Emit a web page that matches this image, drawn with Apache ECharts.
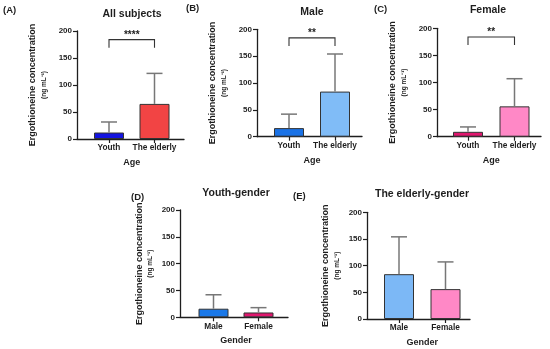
<!DOCTYPE html>
<html>
<head>
<meta charset="utf-8">
<script src="https://cdn.jsdelivr.net/npm/echarts@6/dist/echarts.min.js"></script>
<style>
html,body{margin:0;padding:0;background:#fff;}
#chart{width:550px;height:349px;}
</style>
</head>
<body>
<div id="chart"></div>
<script>
// ---------- data ----------
const panelLetters = ['(A)', '(B)', '(C)', '(D)', '(E)'];
const panelTitles = ['All subjects', 'Male', 'Female', 'Youth-gender', 'The elderly-gender'];
const ageCategories = ['Youth', 'The elderly'];
const genderCategories = ['Male', 'Female'];
const xAxisNames = ['Age', 'Age', 'Age', 'Gender', 'Gender'];
const yAxisTitle = 'Ergothioneine concentration';
const yAxisUnit = '(ng mL⁻¹)';
const yMin = 0, yMax = 200, yInterval = 50;

const meansAll = [12, 65];
const sdAll = [19.5, 56.5];
const meansMale = [16, 84];
const sdMale = [26, 70];
const meansFemale = [9, 56];
const sdFemale = [9, 51];
const meansYouthGender = [16, 9];
const sdYouthGender = [26, 9];
const meansElderlyGender = [84, 56];
const sdElderlyGender = [70, 51];

const significance = ['****', '**', '**', '', ''];

// ---------- styling / layout ----------
const FONT = "'Liberation Sans', Arial, sans-serif";
const INK = '#1e1e1e';
const panelColors = [
  ['#1414e0', '#f24444'],
  ['#1a72e6', '#80bcf7'],
  ['#e0166e', '#ff88c6'],
  ['#1a78e8', '#e0166e'],
  ['#7cb8f6', '#ff88c6']
];
const layout = [
  {axisX: 77, axisEnd: 184, top: 31, zero: 139, c1: 109, c2: 154.5, title: [132, 14], letter: [3, 10], nameGap: 27.5},
  {axisX: 257, axisEnd: 362, top: 29.3, zero: 136.7, c1: 289, c2: 335, title: [312, 12], letter: [186, 8], nameGap: 27.5},
  {axisX: 437, axisEnd: 541, top: 28.3, zero: 136.7, c1: 468, c2: 514.5, title: [488, 10], letter: [374, 9], nameGap: 27.5},
  {axisX: 180, axisEnd: 288, top: 210, zero: 317.3, c1: 213.5, c2: 258.5, title: [236, 193], letter: [131, 197], nameGap: 24},
  {axisX: 367, axisEnd: 470, top: 212.3, zero: 319, c1: 399, c2: 445.5, title: [422, 194], letter: [293, 196], nameGap: 24.5}
];
const bracketLevels = [184, 169, 193]; // top, foot, star text (data units)

const panels = [
  {cats: ageCategories, means: meansAll, sds: sdAll},
  {cats: ageCategories, means: meansMale, sds: sdMale},
  {cats: ageCategories, means: meansFemale, sds: sdFemale},
  {cats: genderCategories, means: meansYouthGender, sds: sdYouthGender},
  {cats: genderCategories, means: meansElderlyGender, sds: sdElderlyGender}
];

const grid = [], xAxis = [], yAxis = [], series = [], title = [];

panels.forEach((p, k) => {
  const L = layout[k];
  const frameIdx = grid.length;
  // frame grid: y-axis ticks & x-axis line
  grid.push({left: L.axisX, top: L.top, width: L.axisEnd - L.axisX, height: L.zero - L.top, containLabel: false});
  xAxis.push({gridIndex: frameIdx, type: 'value', min: 0, max: 1, axisLine: {show: true, lineStyle: {color: INK, width: 1.3}},
    axisTick: {show: false}, axisLabel: {show: false}, splitLine: {show: false}});
  yAxis.push({gridIndex: frameIdx, type: 'value', min: yMin, max: yMax, interval: yInterval,
    axisLine: {show: true, lineStyle: {color: INK, width: 1.3}},
    axisTick: {show: true, length: 4, lineStyle: {color: INK, width: 1.2}},
    axisLabel: {margin: 5, fontFamily: FONT, fontWeight: 'bold', fontSize: 8, color: INK},
    splitLine: {show: false},
    name: '{a|' + yAxisTitle + '}\n{b|' + yAxisUnit + '}',
    nameLocation: 'middle', nameRotate: 90, nameGap: L.nameGap,
    nameTextStyle: {rich: {
      a: {fontFamily: FONT, fontWeight: 'bold', fontSize: 9, lineHeight: 11, color: INK},
      b: {fontFamily: FONT, fontWeight: 'bold', fontSize: 6.5, lineHeight: 11, color: INK}
    }}
  });
  // data grid
  const dataIdx = grid.length;
  const sp = L.c2 - L.c1;
  grid.push({left: L.c1 - sp / 2, top: L.top, width: 2 * sp, height: L.zero - L.top, containLabel: false});
  xAxis.push({gridIndex: dataIdx, type: 'category', data: p.cats,
    axisLine: {show: false},
    axisTick: {show: true, alignWithLabel: true, length: 4, lineStyle: {color: INK, width: 1.2}},
    axisLabel: {margin: 5, fontFamily: FONT, fontWeight: 'bold', fontSize: 8.3, color: INK, interval: 0},
    name: xAxisNames[k], nameLocation: 'middle', nameGap: 19,
    nameTextStyle: {fontFamily: FONT, fontWeight: 'bold', fontSize: 9, color: INK}
  });
  yAxis.push({gridIndex: dataIdx, type: 'value', min: yMin, max: yMax, show: false, splitLine: {show: false}});

  const xi = xAxis.length - 1, yi = yAxis.length - 1;
  series.push({
    type: 'bar', xAxisIndex: xi, yAxisIndex: yi, barWidth: 30, z: 2,
    data: p.means.map((v, i) => ({value: v, itemStyle: {color: panelColors[k][i]}})),
    itemStyle: {borderColor: '#333', borderWidth: 1}
  });
  series.push({
    type: 'custom', xAxisIndex: xi, yAxisIndex: yi, z: 3,
    data: p.means.map((m, i) => [i, m, m + p.sds[i]]),
    encode: {x: 0, y: [1, 2]},
    renderItem: (params, api) => {
      const top = api.coord([api.value(0), api.value(2)]);
      const base = api.coord([api.value(0), api.value(1)]);
      const st = {stroke: '#777', lineWidth: 1.5};
      return {type: 'group', children: [
        {type: 'line', shape: {x1: top[0], y1: base[1], x2: top[0], y2: top[1]}, style: st},
        {type: 'line', shape: {x1: top[0] - 8, y1: top[1], x2: top[0] + 8, y2: top[1]}, style: st}
      ]};
    }
  });
  if (significance[k]) {
    series.push({
      type: 'custom', xAxisIndex: xi, yAxisIndex: yi, z: 3,
      data: [[0, 1, bracketLevels[0], bracketLevels[1], bracketLevels[2]]],
      encode: {x: [0, 1], y: [2, 3]},
      renderItem: (params, api) => {
        const a = api.coord([api.value(0), api.value(2)]);
        const b = api.coord([api.value(1), api.value(2)]);
        const fa = api.coord([api.value(0), api.value(3)]);
        const fb = api.coord([api.value(1), api.value(3)]);
        const t = api.coord([api.value(0), api.value(4)]);
        return {type: 'group', children: [
          {type: 'polyline', shape: {points: [[fa[0], fa[1]], [a[0], a[1]], [b[0], b[1]], [fb[0], fb[1]]]},
            style: {stroke: '#333', lineWidth: 1.1, fill: null}},
          {type: 'text', x: (a[0] + b[0]) / 2, y: t[1],
            style: {text: significance[k], font: 'bold 10px ' + FONT, fill: INK, align: 'center', verticalAlign: 'middle'}}
        ]};
      }
    });
  }
  title.push({text: panelTitles[k], left: L.title[0], top: L.title[1], textAlign: 'center', textVerticalAlign: 'middle', padding: 0,
    textStyle: {fontFamily: FONT, fontWeight: 'bold', fontSize: 10.5, color: INK}});
  title.push({text: panelLetters[k], left: L.letter[0], top: L.letter[1], textVerticalAlign: 'middle', padding: 0,
    textStyle: {fontFamily: FONT, fontWeight: 'bold', fontSize: 9.5, color: INK}});
});

const chart = echarts.init(document.getElementById('chart'));
chart.setOption({animation: false, backgroundColor: '#fff', title, grid, xAxis, yAxis, series});
</script>
</body>
</html>
